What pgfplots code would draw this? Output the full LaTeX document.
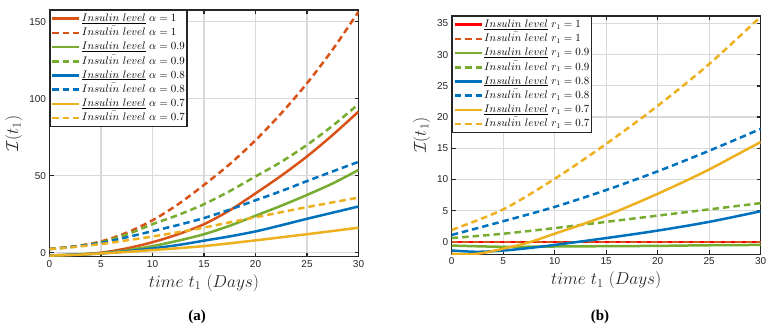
\documentclass[border=0pt]{standalone}
\usepackage{fontspec}
\usepackage{pgfplots}
\pgfplotsset{compat=1.18}
\newfontfamily\helv{Liberation Sans}
\newfontfamily\tnr{Liberation Serif}
\definecolor{mred}{HTML}{FF0000}
\definecolor{morange}{HTML}{D95319}
\definecolor{mgreen}{HTML}{77AC30}
\definecolor{mblue}{HTML}{0072BD}
\definecolor{myellow}{HTML}{EDB120}

\pgfplotsset{
  matlab/.style={
    scale only axis, width=309pt, anchor=south west,
    xmin=0, xmax=30, xtick={0,5,...,30},
    grid=major, major grid style={black!15, line width=1.2pt},
    axis line style={black!85, line width=1.3pt},
    tick align=inside, major tick length=4pt,
    tick style={black!85, line width=1.3pt},
    tick label style={font=\helv\fontsize{10}{12}\selectfont, text=black!85},
    /pgf/number format/assume math mode=true,
    xlabel={$time\ t_1\ (Days)$}, ylabel={$\mathcal{I}(t_1)$},
    label style={font=\fontsize{17.5}{20}\selectfont, text=black!85},
    legend cell align=left,
    legend style={at={(0,1)}, anchor=north west, draw=black!85, line width=1.3pt,
      fill=white, font=\fontsize{10.5}{12}\selectfont,
      inner xsep=1pt, inner ysep=1pt, row sep=0pt,
      nodes={inner sep=1.2pt, text height=8.6pt, text depth=3.2pt}},
    legend image code/.code={\draw[##1] (0pt,0pt) -- (27pt,0pt);},
    every axis plot/.append style={line width=2.5pt, smooth},
  },
  md/.style={dash pattern=on 6.5pt off 4pt},
}

\begin{document}
\begin{tikzpicture}
\path[use as bounding box] (0,0) rectangle (778pt,328pt);

% ---------- (a) ----------
\begin{axis}[matlab, at={(49.5pt,71.3pt)}, height=246.7pt,
  ymin=-2.6, ymax=157.6, ytick={0,50,100,150}]
\addplot[morange] coordinates {(0,-1.8) (2.5,-1.3) (5,0) (7.5,2.8) (10,6.8) (12.5,12) (15,18.5) (17.5,27.5) (20,38.5) (22.5,50) (25,62.5) (27.5,76.5) (30,91.6)};
\addlegendentry{$\underline{Insulin\ level}\ \alpha=1$}
\addplot[morange, md] coordinates {(0,2.4) (2.5,4.2) (5,7.3) (7.5,13) (10,21) (12.5,31.5) (15,44) (17.5,57.5) (20,73) (22.5,90.5) (25,110) (27.5,132) (30,156.5)};
\addlegendentry{$\bar{Insulin\ level}\ \alpha=1$}
\addplot[mgreen] coordinates {(0,-1.8) (2.5,-1.2) (5,-0.3) (7.5,1.5) (10,4.3) (12.5,7.8) (15,12) (17.5,17.5) (20,24) (22.5,30.5) (25,37.5) (27.5,45) (30,53.7)};
\addlegendentry{$\underline{Insulin\ level}\ \alpha=0.9$}
\addplot[mgreen, md] coordinates {(0,2.4) (2.5,4) (5,6.8) (7.5,11.8) (10,18.5) (12.5,24.5) (15,31.5) (17.5,40) (20,49.5) (22.5,59) (25,70) (27.5,82.5) (30,96.5)};
\addlegendentry{$\bar{Insulin\ level}\ \alpha=0.9$}
\addplot[mblue] coordinates {(0,-1.8) (2.5,-1.3) (5,-0.5) (7.5,0.9) (10,2.8) (12.5,5) (15,7.8) (17.5,10.6) (20,13.8) (22.5,17.8) (25,22) (27.5,26) (30,30)};
\addlegendentry{$\underline{Insulin\ level}\ \alpha=0.8$}
\addplot[mblue, md] coordinates {(0,2.4) (2.5,4) (5,6.3) (7.5,10) (10,14) (12.5,18) (15,22.5) (17.5,28) (20,34) (22.5,40) (25,46.5) (27.5,52.8) (30,59)};
\addlegendentry{$\bar{Insulin\ level}\ \alpha=0.8$}
\addplot[myellow] coordinates {(0,-1.9) (2.5,-1.4) (5,-0.5) (7.5,0.5) (10,1.7) (12.5,2.9) (15,4.3) (17.5,6.1) (20,8) (22.5,10) (25,12) (27.5,14.1) (30,16.2)};
\addlegendentry{$\underline{Insulin\ level}\ \alpha=0.7$}
\addplot[myellow, md] coordinates {(0,2.4) (2.5,3.8) (5,5.6) (7.5,8) (10,10.5) (12.5,13.3) (15,16.3) (17.5,19.7) (20,23) (22.5,26.3) (25,29.6) (27.5,32.7) (30,35.8)};
\addlegendentry{$\bar{Insulin\ level}\ \alpha=0.7$}
\end{axis}

% ---------- (b) ----------
\begin{axis}[matlab, at={(451.7pt,73.7pt)}, height=238.3pt,
  ymin=-2, ymax=36.2, ytick={0,5,...,35}]
\addplot[mred] coordinates {(0,0) (10,0) (20,0) (30,0)};
\addlegendentry{$\underline{Insulin\ level}\ r_1=1$}
\addplot[morange, md] coordinates {(0,0) (10,0) (20,0) (30,0)};
\addlegendentry{$\bar{Insulin\ level}\ r_1=1$}
\addplot[mgreen] coordinates {(0,-0.6) (5,-0.8) (10,-0.75) (15,-0.7) (20,-0.65) (25,-0.55) (30,-0.5)};
\addlegendentry{$\underline{Insulin\ level}\ r_1=0.9$}
\addplot[mgreen, md] coordinates {(0,0.6) (5,1.3) (10,2.2) (15,3.2) (20,4.2) (25,5.2) (30,6.2)};
\addlegendentry{$\bar{Insulin\ level}\ r_1=0.9$}
\addplot[mblue] coordinates {(0,-1.4) (2.5,-1.6) (5,-1.4) (7.5,-1.0) (10,-0.5) (15,0.6) (20,1.8) (25,3.2) (30,4.9)};
\addlegendentry{$\underline{Insulin\ level}\ r_1=0.8$}
\addplot[mblue, md] coordinates {(0,1.1) (5,3.3) (10,5.6) (15,8.3) (20,11.3) (25,14.6) (30,18.1)};
\addlegendentry{$\bar{Insulin\ level}\ r_1=0.8$}
\addplot[myellow] coordinates {(0,-1.9) (1.5,-2.0) (3,-1.8) (5,-1.1) (7.5,-0.1) (10,1.3) (12.5,2.7) (15,4.2) (17.5,5.9) (20,7.7) (22.5,9.6) (25,11.6) (27.5,13.8) (30,16)};
\addlegendentry{$\underline{Insulin\ level}\ r_1=0.7$}
\addplot[myellow, md] coordinates {(0,1.9) (5,5.2) (10,10.1) (15,15.7) (20,21.8) (25,28.5) (30,36.1)};
\addlegendentry{$\bar{Insulin\ level}\ r_1=0.7$}
\end{axis}

\node[font=\tnr\bfseries\fontsize{15}{17}\selectfont] at (197pt,11pt) {(a)};
\node[font=\tnr\bfseries\fontsize{15}{17}\selectfont] at (600pt,11pt) {(b)};
\end{tikzpicture}
\end{document}
